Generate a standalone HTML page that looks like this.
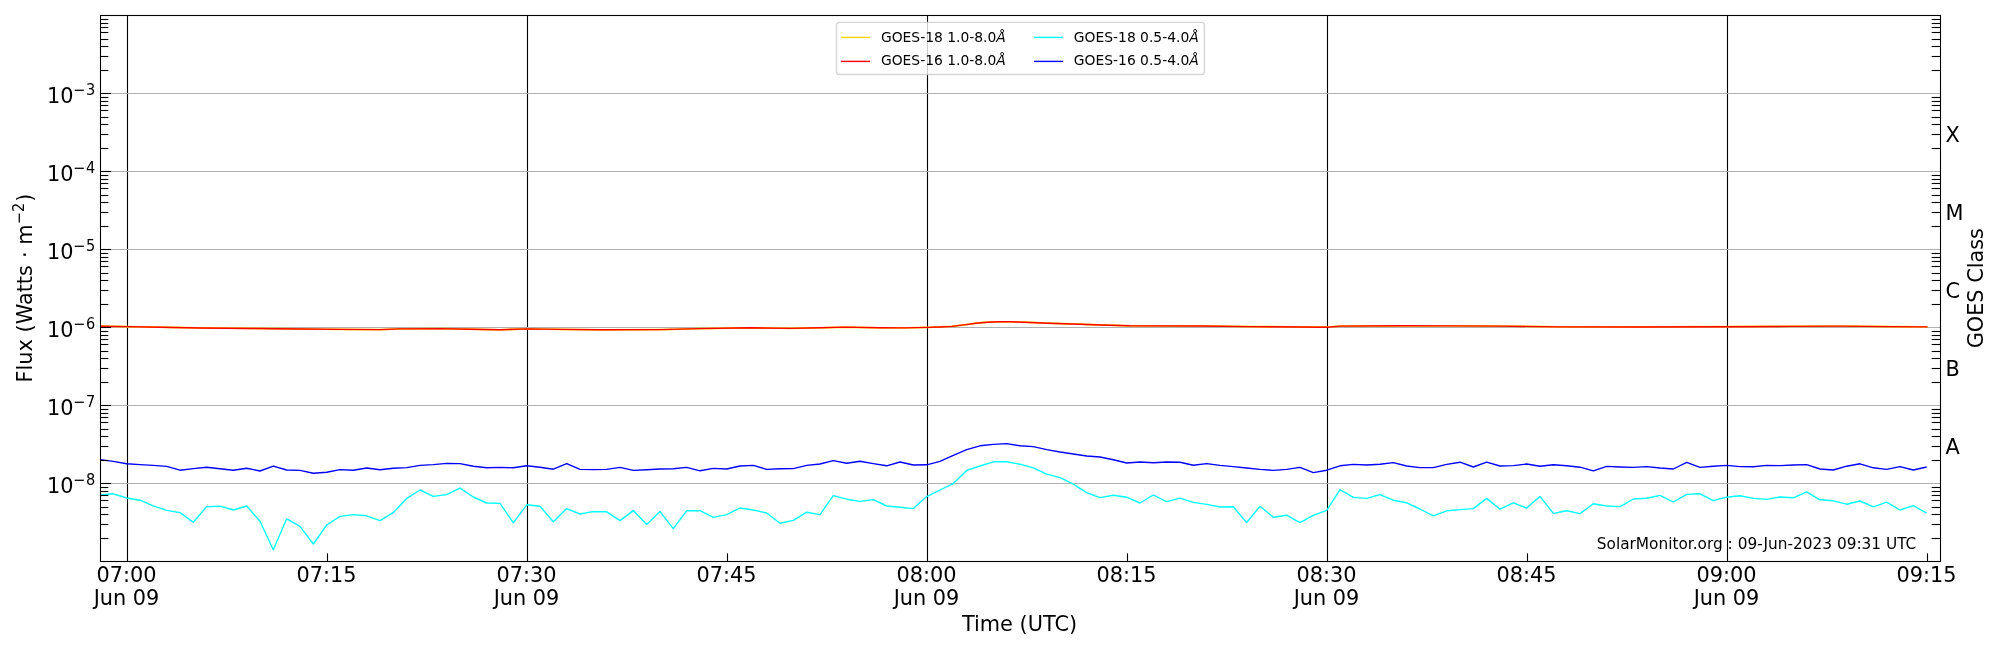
<!DOCTYPE html>
<html lang="en">
<head>
<meta charset="utf-8">
<title>GOES X-ray Flux</title>
<style>
html,body{margin:0;padding:0;background:#fff;}
body{width:2000px;height:650px;overflow:hidden;}
svg{display:block;will-change:transform;}
text{font-family:"DejaVu Sans", "Liberation Sans", sans-serif;fill:#000;}
.it{font-family:"DejaVu Sans", "Liberation Sans", sans-serif;font-style:oblique;}
</style>
</head>
<body>
<svg width="2000" height="650" viewBox="0 0 2000 650">
<rect x="0" y="0" width="2000" height="650" fill="#ffffff"/>
<defs><clipPath id="ax"><rect x="100.5" y="15.5" width="1840.0" height="546.0"/></clipPath></defs>
<g stroke="#000" stroke-width="1.1">
<line x1="127.5" y1="15.5" x2="127.5" y2="561.5"/>
<line x1="527.5" y1="15.5" x2="527.5" y2="561.5"/>
<line x1="927.5" y1="15.5" x2="927.5" y2="561.5"/>
<line x1="1327.5" y1="15.5" x2="1327.5" y2="561.5"/>
<line x1="1727.5" y1="15.5" x2="1727.5" y2="561.5"/>
</g>
<g stroke="#b0b0b0" stroke-width="1.1" fill="none">
<line x1="100.5" y1="483.50" x2="1940.5" y2="483.50"/>
<line x1="100.5" y1="405.50" x2="1940.5" y2="405.50"/>
<line x1="100.5" y1="327.50" x2="1940.5" y2="327.50"/>
<line x1="100.5" y1="249.50" x2="1940.5" y2="249.50"/>
<line x1="100.5" y1="171.50" x2="1940.5" y2="171.50"/>
<line x1="100.5" y1="93.50" x2="1940.5" y2="93.50"/>
</g>
<g clip-path="url(#ax)">
<polyline points="100.5,326.1 127.5,326.6 160.0,327.2 200.0,327.9 250.0,328.4 300.0,328.9 340.0,329.3 380.0,329.6 400.0,328.8 440.0,328.6 470.0,329.1 500.0,329.8 527.5,328.8 560.0,329.3 600.0,329.8 660.0,329.6 700.0,328.6 750.0,327.8 790.0,328.3 820.0,327.8 845.0,327.1 880.0,327.8 905.0,327.8 927.5,327.3 940.0,326.9 952.0,326.3 960.0,325.3 968.0,324.3 976.0,323.2 984.0,322.4 992.0,321.9 1000.0,321.8 1010.0,321.8 1024.0,322.1 1048.0,323.1 1080.0,324.1 1100.0,324.9 1130.0,325.8 1200.0,325.9 1250.0,326.6 1300.0,326.9 1327.5,327.1 1340.0,326.1 1400.0,325.8 1450.0,325.8 1500.0,326.1 1560.0,326.8 1640.0,326.9 1727.5,326.6 1790.0,326.3 1840.0,326.1 1890.0,326.6 1927.5,326.8" fill="none" stroke="#ffd700" stroke-width="1.8" stroke-linejoin="round" stroke-linecap="butt" />
<polyline points="100.5,326.2 127.5,326.6 160.0,327.3 200.0,328.0 250.0,328.5 300.0,329.0 340.0,329.4 380.0,329.6 400.0,328.9 440.0,328.6 470.0,329.2 500.0,329.8 527.5,328.9 560.0,329.4 600.0,329.8 660.0,329.6 700.0,328.6 750.0,327.8 790.0,328.4 820.0,327.8 845.0,327.1 880.0,327.8 905.0,327.9 927.5,327.4 940.0,327.0 952.0,326.4 960.0,325.4 968.0,324.4 976.0,323.3 984.0,322.5 992.0,322.0 1000.0,321.8 1010.0,321.8 1024.0,322.2 1048.0,323.2 1080.0,324.2 1100.0,325.0 1130.0,325.8 1200.0,326.0 1250.0,326.6 1300.0,327.0 1327.5,327.2 1340.0,326.1 1400.0,325.8 1450.0,325.9 1500.0,326.1 1560.0,326.9 1640.0,327.0 1727.5,326.7 1790.0,326.4 1840.0,326.1 1890.0,326.6 1927.5,326.9" fill="none" stroke="#ff0000" stroke-width="1.39" stroke-linejoin="round" stroke-linecap="butt" />
<polyline points="100.0,495.0 113.3,493.8 126.7,498.0 140.0,500.2 153.3,505.8 166.7,510.4 180.0,512.6 193.3,522.2 206.7,506.6 220.0,506.2 233.3,510.0 246.7,506.0 260.0,521.2 273.3,549.8 286.7,518.8 300.0,526.4 313.3,544.0 326.7,525.0 340.0,516.4 353.3,514.6 366.7,515.8 380.0,520.6 393.3,512.6 406.7,498.4 420.0,490.0 433.3,496.4 446.7,494.6 460.0,488.2 473.3,497.0 486.7,503.0 500.0,503.4 513.3,522.8 526.7,504.8 540.0,506.2 553.3,521.8 566.7,508.6 580.0,514.0 593.3,511.6 606.7,511.8 620.0,520.6 633.3,510.6 646.7,524.4 660.0,511.6 673.3,528.6 686.7,510.8 700.0,510.6 713.3,517.4 726.7,514.6 740.0,508.0 753.3,510.0 766.7,513.0 780.0,523.2 793.3,520.4 806.7,512.2 820.0,514.6 833.3,495.6 846.7,499.2 860.0,501.4 873.3,499.6 886.7,506.0 900.0,507.2 913.3,508.6 926.7,496.6 940.0,490.0 953.3,483.6 966.7,470.4 980.0,466.0 993.3,461.8 1006.7,461.8 1020.0,464.2 1033.3,467.8 1046.7,474.2 1060.0,477.6 1073.3,484.2 1086.7,492.6 1100.0,497.6 1113.3,495.2 1126.7,497.2 1140.0,503.0 1153.3,495.0 1166.7,501.6 1180.0,498.2 1193.3,502.4 1206.7,504.4 1220.0,507.0 1233.3,506.8 1246.7,522.6 1260.0,506.2 1273.3,517.2 1286.7,515.2 1300.0,522.6 1313.3,515.4 1326.7,510.4 1340.0,489.6 1353.3,497.4 1366.7,498.4 1380.0,494.6 1393.3,500.2 1406.7,502.8 1420.0,509.0 1433.3,515.8 1446.7,510.8 1460.0,509.6 1473.3,508.6 1486.7,498.4 1500.0,509.2 1513.3,502.8 1526.7,508.0 1540.0,496.4 1553.3,513.4 1566.7,510.8 1580.0,513.6 1593.3,503.8 1606.7,506.0 1620.0,506.6 1633.3,499.0 1646.7,498.2 1660.0,495.4 1673.3,502.0 1686.7,494.4 1700.0,493.8 1713.3,500.6 1726.7,497.2 1740.0,495.8 1753.3,498.4 1766.7,499.4 1780.0,497.0 1793.3,497.8 1806.7,491.8 1820.0,499.8 1833.3,500.8 1846.7,504.2 1860.0,501.0 1873.3,506.8 1886.7,502.2 1900.0,510.0 1913.3,505.6 1926.7,513.2" fill="none" stroke="#00ffff" stroke-width="1.39" stroke-linejoin="round" stroke-linecap="butt" />
<polyline points="100.0,459.6 113.3,461.4 126.7,463.8 140.0,464.6 153.3,465.4 166.7,466.4 180.0,470.2 193.3,468.6 206.7,467.2 220.0,468.8 233.3,470.2 246.7,468.2 260.0,471.0 273.3,466.2 286.7,470.0 300.0,470.4 313.3,473.2 326.7,472.2 340.0,469.6 353.3,470.2 366.7,468.0 380.0,469.8 393.3,468.2 406.7,467.6 420.0,465.4 433.3,464.6 446.7,463.4 460.0,463.6 473.3,466.2 486.7,467.8 500.0,467.4 513.3,467.8 526.7,465.8 540.0,467.2 553.3,469.2 566.7,463.6 580.0,469.4 593.3,469.6 606.7,469.4 620.0,467.4 633.3,470.4 646.7,469.8 660.0,469.0 673.3,468.8 686.7,467.4 700.0,470.8 713.3,468.4 726.7,469.0 740.0,466.0 753.3,465.4 766.7,469.4 780.0,468.8 793.3,468.6 806.7,465.4 820.0,464.0 833.3,460.6 846.7,463.2 860.0,461.2 873.3,463.6 886.7,465.8 900.0,462.0 913.3,465.0 926.7,464.8 940.0,461.4 953.3,455.4 966.7,449.6 980.0,445.8 993.3,444.4 1006.7,443.6 1020.0,445.8 1033.3,446.6 1046.7,449.6 1060.0,452.0 1073.3,454.0 1086.7,456.0 1100.0,457.0 1113.3,459.8 1126.7,463.0 1140.0,462.0 1153.3,462.8 1166.7,462.0 1180.0,462.2 1193.3,465.2 1206.7,463.6 1220.0,465.4 1233.3,466.6 1246.7,468.0 1260.0,469.4 1273.3,470.4 1286.7,469.4 1300.0,467.4 1313.3,472.6 1326.7,470.2 1340.0,465.8 1353.3,464.4 1366.7,465.0 1380.0,464.2 1393.3,462.6 1406.7,466.0 1420.0,467.6 1433.3,467.6 1446.7,464.4 1460.0,462.2 1473.3,467.0 1486.7,462.2 1500.0,466.0 1513.3,465.6 1526.7,464.0 1540.0,466.2 1553.3,464.8 1566.7,465.8 1580.0,467.2 1593.3,470.8 1606.7,466.4 1620.0,467.0 1633.3,467.4 1646.7,466.6 1660.0,468.0 1673.3,469.0 1686.7,462.4 1700.0,467.4 1713.3,466.2 1726.7,465.4 1740.0,466.6 1753.3,466.8 1766.7,465.4 1780.0,465.6 1793.3,465.0 1806.7,464.6 1820.0,469.0 1833.3,470.0 1846.7,466.2 1860.0,463.8 1873.3,467.8 1886.7,469.4 1900.0,466.6 1913.3,470.0 1926.7,467.0" fill="none" stroke="#0000ff" stroke-width="1.39" stroke-linejoin="round" stroke-linecap="butt" />
</g>
<g stroke="#000" stroke-width="1.1">
<line x1="100" y1="538.50" x2="108.33" y2="538.50"/>
<line x1="1931.67" y1="538.50" x2="1940" y2="538.50"/>
<line x1="100" y1="524.50" x2="108.33" y2="524.50"/>
<line x1="1931.67" y1="524.50" x2="1940" y2="524.50"/>
<line x1="100" y1="514.50" x2="108.33" y2="514.50"/>
<line x1="1931.67" y1="514.50" x2="1940" y2="514.50"/>
<line x1="100" y1="507.50" x2="108.33" y2="507.50"/>
<line x1="1931.67" y1="507.50" x2="1940" y2="507.50"/>
<line x1="100" y1="500.50" x2="108.33" y2="500.50"/>
<line x1="1931.67" y1="500.50" x2="1940" y2="500.50"/>
<line x1="100" y1="495.50" x2="108.33" y2="495.50"/>
<line x1="1931.67" y1="495.50" x2="1940" y2="495.50"/>
<line x1="100" y1="491.50" x2="108.33" y2="491.50"/>
<line x1="1931.67" y1="491.50" x2="1940" y2="491.50"/>
<line x1="100" y1="487.50" x2="108.33" y2="487.50"/>
<line x1="1931.67" y1="487.50" x2="1940" y2="487.50"/>
<line x1="100" y1="483.50" x2="111.1" y2="483.50"/>
<line x1="100" y1="460.50" x2="108.33" y2="460.50"/>
<line x1="1931.67" y1="460.50" x2="1940" y2="460.50"/>
<line x1="100" y1="446.50" x2="108.33" y2="446.50"/>
<line x1="1931.67" y1="446.50" x2="1940" y2="446.50"/>
<line x1="100" y1="436.50" x2="108.33" y2="436.50"/>
<line x1="1931.67" y1="436.50" x2="1940" y2="436.50"/>
<line x1="100" y1="429.50" x2="108.33" y2="429.50"/>
<line x1="1931.67" y1="429.50" x2="1940" y2="429.50"/>
<line x1="100" y1="422.50" x2="108.33" y2="422.50"/>
<line x1="1931.67" y1="422.50" x2="1940" y2="422.50"/>
<line x1="100" y1="417.50" x2="108.33" y2="417.50"/>
<line x1="1931.67" y1="417.50" x2="1940" y2="417.50"/>
<line x1="100" y1="413.50" x2="108.33" y2="413.50"/>
<line x1="1931.67" y1="413.50" x2="1940" y2="413.50"/>
<line x1="100" y1="409.50" x2="108.33" y2="409.50"/>
<line x1="1931.67" y1="409.50" x2="1940" y2="409.50"/>
<line x1="100" y1="405.50" x2="111.1" y2="405.50"/>
<line x1="100" y1="382.50" x2="108.33" y2="382.50"/>
<line x1="1931.67" y1="382.50" x2="1940" y2="382.50"/>
<line x1="100" y1="368.50" x2="108.33" y2="368.50"/>
<line x1="1931.67" y1="368.50" x2="1940" y2="368.50"/>
<line x1="100" y1="358.50" x2="108.33" y2="358.50"/>
<line x1="1931.67" y1="358.50" x2="1940" y2="358.50"/>
<line x1="100" y1="351.50" x2="108.33" y2="351.50"/>
<line x1="1931.67" y1="351.50" x2="1940" y2="351.50"/>
<line x1="100" y1="344.50" x2="108.33" y2="344.50"/>
<line x1="1931.67" y1="344.50" x2="1940" y2="344.50"/>
<line x1="100" y1="339.50" x2="108.33" y2="339.50"/>
<line x1="1931.67" y1="339.50" x2="1940" y2="339.50"/>
<line x1="100" y1="335.50" x2="108.33" y2="335.50"/>
<line x1="1931.67" y1="335.50" x2="1940" y2="335.50"/>
<line x1="100" y1="331.50" x2="108.33" y2="331.50"/>
<line x1="1931.67" y1="331.50" x2="1940" y2="331.50"/>
<line x1="100" y1="327.50" x2="111.1" y2="327.50"/>
<line x1="100" y1="304.50" x2="108.33" y2="304.50"/>
<line x1="1931.67" y1="304.50" x2="1940" y2="304.50"/>
<line x1="100" y1="290.50" x2="108.33" y2="290.50"/>
<line x1="1931.67" y1="290.50" x2="1940" y2="290.50"/>
<line x1="100" y1="280.50" x2="108.33" y2="280.50"/>
<line x1="1931.67" y1="280.50" x2="1940" y2="280.50"/>
<line x1="100" y1="273.50" x2="108.33" y2="273.50"/>
<line x1="1931.67" y1="273.50" x2="1940" y2="273.50"/>
<line x1="100" y1="266.50" x2="108.33" y2="266.50"/>
<line x1="1931.67" y1="266.50" x2="1940" y2="266.50"/>
<line x1="100" y1="261.50" x2="108.33" y2="261.50"/>
<line x1="1931.67" y1="261.50" x2="1940" y2="261.50"/>
<line x1="100" y1="257.50" x2="108.33" y2="257.50"/>
<line x1="1931.67" y1="257.50" x2="1940" y2="257.50"/>
<line x1="100" y1="253.50" x2="108.33" y2="253.50"/>
<line x1="1931.67" y1="253.50" x2="1940" y2="253.50"/>
<line x1="100" y1="249.50" x2="111.1" y2="249.50"/>
<line x1="100" y1="226.50" x2="108.33" y2="226.50"/>
<line x1="1931.67" y1="226.50" x2="1940" y2="226.50"/>
<line x1="100" y1="212.50" x2="108.33" y2="212.50"/>
<line x1="1931.67" y1="212.50" x2="1940" y2="212.50"/>
<line x1="100" y1="202.50" x2="108.33" y2="202.50"/>
<line x1="1931.67" y1="202.50" x2="1940" y2="202.50"/>
<line x1="100" y1="195.50" x2="108.33" y2="195.50"/>
<line x1="1931.67" y1="195.50" x2="1940" y2="195.50"/>
<line x1="100" y1="188.50" x2="108.33" y2="188.50"/>
<line x1="1931.67" y1="188.50" x2="1940" y2="188.50"/>
<line x1="100" y1="183.50" x2="108.33" y2="183.50"/>
<line x1="1931.67" y1="183.50" x2="1940" y2="183.50"/>
<line x1="100" y1="179.50" x2="108.33" y2="179.50"/>
<line x1="1931.67" y1="179.50" x2="1940" y2="179.50"/>
<line x1="100" y1="175.50" x2="108.33" y2="175.50"/>
<line x1="1931.67" y1="175.50" x2="1940" y2="175.50"/>
<line x1="100" y1="171.50" x2="111.1" y2="171.50"/>
<line x1="100" y1="148.50" x2="108.33" y2="148.50"/>
<line x1="1931.67" y1="148.50" x2="1940" y2="148.50"/>
<line x1="100" y1="134.50" x2="108.33" y2="134.50"/>
<line x1="1931.67" y1="134.50" x2="1940" y2="134.50"/>
<line x1="100" y1="124.50" x2="108.33" y2="124.50"/>
<line x1="1931.67" y1="124.50" x2="1940" y2="124.50"/>
<line x1="100" y1="117.50" x2="108.33" y2="117.50"/>
<line x1="1931.67" y1="117.50" x2="1940" y2="117.50"/>
<line x1="100" y1="110.50" x2="108.33" y2="110.50"/>
<line x1="1931.67" y1="110.50" x2="1940" y2="110.50"/>
<line x1="100" y1="105.50" x2="108.33" y2="105.50"/>
<line x1="1931.67" y1="105.50" x2="1940" y2="105.50"/>
<line x1="100" y1="101.50" x2="108.33" y2="101.50"/>
<line x1="1931.67" y1="101.50" x2="1940" y2="101.50"/>
<line x1="100" y1="97.50" x2="108.33" y2="97.50"/>
<line x1="1931.67" y1="97.50" x2="1940" y2="97.50"/>
<line x1="100" y1="93.50" x2="111.1" y2="93.50"/>
<line x1="100" y1="70.50" x2="108.33" y2="70.50"/>
<line x1="1931.67" y1="70.50" x2="1940" y2="70.50"/>
<line x1="100" y1="56.50" x2="108.33" y2="56.50"/>
<line x1="1931.67" y1="56.50" x2="1940" y2="56.50"/>
<line x1="100" y1="46.50" x2="108.33" y2="46.50"/>
<line x1="1931.67" y1="46.50" x2="1940" y2="46.50"/>
<line x1="100" y1="39.50" x2="108.33" y2="39.50"/>
<line x1="1931.67" y1="39.50" x2="1940" y2="39.50"/>
<line x1="100" y1="32.50" x2="108.33" y2="32.50"/>
<line x1="1931.67" y1="32.50" x2="1940" y2="32.50"/>
<line x1="100" y1="27.50" x2="108.33" y2="27.50"/>
<line x1="1931.67" y1="27.50" x2="1940" y2="27.50"/>
<line x1="100" y1="23.50" x2="108.33" y2="23.50"/>
<line x1="1931.67" y1="23.50" x2="1940" y2="23.50"/>
<line x1="100" y1="19.50" x2="108.33" y2="19.50"/>
<line x1="1931.67" y1="19.50" x2="1940" y2="19.50"/>
<line x1="327.5" y1="553.3" x2="327.5" y2="561.6"/>
<line x1="727.5" y1="553.3" x2="727.5" y2="561.6"/>
<line x1="1127.5" y1="553.3" x2="1127.5" y2="561.6"/>
<line x1="1527.5" y1="553.3" x2="1527.5" y2="561.6"/>
<line x1="1927.5" y1="553.3" x2="1927.5" y2="561.6"/>
</g>
<rect x="100.5" y="15.5" width="1840.0" height="546.0" fill="none" stroke="#000" stroke-width="1.1"/>
<text x="73.4" y="492.6" font-size="20.83" text-anchor="end">10</text>
<text transform="translate(73.0,485.1) scale(1,1.08)" font-size="14.58">−<tspan dx="0.7">8</tspan></text>
<text x="73.4" y="414.6" font-size="20.83" text-anchor="end">10</text>
<text transform="translate(73.0,407.1) scale(1,1.08)" font-size="14.58">−<tspan dx="0.7">7</tspan></text>
<text x="73.4" y="336.6" font-size="20.83" text-anchor="end">10</text>
<text transform="translate(73.0,329.1) scale(1,1.08)" font-size="14.58">−<tspan dx="0.7">6</tspan></text>
<text x="73.4" y="258.6" font-size="20.83" text-anchor="end">10</text>
<text transform="translate(73.0,251.1) scale(1,1.08)" font-size="14.58">−<tspan dx="0.7">5</tspan></text>
<text x="73.4" y="180.6" font-size="20.83" text-anchor="end">10</text>
<text transform="translate(73.0,173.1) scale(1,1.08)" font-size="14.58">−<tspan dx="0.7">4</tspan></text>
<text x="73.4" y="102.6" font-size="20.83" text-anchor="end">10</text>
<text transform="translate(73.0,95.1) scale(1,1.08)" font-size="14.58">−<tspan dx="0.7">3</tspan></text>
<text x="126.5" y="581.8" font-size="20.83" text-anchor="middle">07:00</text>
<text x="126.5" y="604.9" font-size="20.83" text-anchor="middle">Jun 09</text>
<text x="326.5" y="581.8" font-size="20.83" text-anchor="middle">07:15</text>
<text x="526.5" y="581.8" font-size="20.83" text-anchor="middle">07:30</text>
<text x="526.5" y="604.9" font-size="20.83" text-anchor="middle">Jun 09</text>
<text x="726.5" y="581.8" font-size="20.83" text-anchor="middle">07:45</text>
<text x="926.5" y="581.8" font-size="20.83" text-anchor="middle">08:00</text>
<text x="926.5" y="604.9" font-size="20.83" text-anchor="middle">Jun 09</text>
<text x="1126.5" y="581.8" font-size="20.83" text-anchor="middle">08:15</text>
<text x="1326.5" y="581.8" font-size="20.83" text-anchor="middle">08:30</text>
<text x="1326.5" y="604.9" font-size="20.83" text-anchor="middle">Jun 09</text>
<text x="1526.5" y="581.8" font-size="20.83" text-anchor="middle">08:45</text>
<text x="1726.5" y="581.8" font-size="20.83" text-anchor="middle">09:00</text>
<text x="1726.5" y="604.9" font-size="20.83" text-anchor="middle">Jun 09</text>
<text x="1926.5" y="581.8" font-size="20.83" text-anchor="middle">09:15</text>
<text x="1019.5" y="630.6" font-size="20.83" text-anchor="middle">Time (UTC)</text>
<text transform="translate(32.3,224.5) rotate(-90)" font-size="20.83" text-anchor="end">Flux (Watts <tspan dx="0.5">· m</tspan></text>
<text transform="translate(24.0,224.3) rotate(-90) scale(1,1.08)" font-size="14.58">−2</text>
<text transform="translate(32.3,201.7) rotate(-90)" font-size="20.83">)</text>
<text transform="translate(1983.2,288.2) rotate(-90)" font-size="20.83" text-anchor="middle">GOES Class</text>
<text x="1945.6" y="141.8" font-size="20.83">X</text>
<text x="1945.6" y="219.8" font-size="20.83">M</text>
<text x="1945.6" y="297.8" font-size="20.83">C</text>
<text x="1945.6" y="375.8" font-size="20.83">B</text>
<text x="1945.6" y="453.8" font-size="20.83">A</text>
<rect x="836.5" y="22.4" width="367.9" height="52.1" rx="2.8" ry="2.8" fill="#ffffff" fill-opacity="0.8" stroke="#cccccc" stroke-opacity="0.8" stroke-width="1.4"/>
<line x1="841" y1="37.4" x2="870" y2="37.4" stroke="#ffd700" stroke-width="1.39"/>
<text x="880.9" y="42.0" font-size="13.89">GOES-18 1.0-8.0<tspan class="it" font-style="oblique">Å</tspan></text>
<line x1="841" y1="61.4" x2="870" y2="61.4" stroke="#ff0000" stroke-width="1.39"/>
<text x="880.9" y="65.3" font-size="13.89">GOES-16 1.0-8.0<tspan class="it" font-style="oblique">Å</tspan></text>
<line x1="1034" y1="37.4" x2="1063" y2="37.4" stroke="#00ffff" stroke-width="1.39"/>
<text x="1073.8" y="42.0" font-size="13.89">GOES-18 0.5-4.0<tspan class="it" font-style="oblique">Å</tspan></text>
<line x1="1034" y1="61.4" x2="1063" y2="61.4" stroke="#0000ff" stroke-width="1.39"/>
<text x="1073.8" y="65.3" font-size="13.89">GOES-16 0.5-4.0<tspan class="it" font-style="oblique">Å</tspan></text>
<text x="1596.8" y="549.1" font-size="15.33">SolarMonitor.org : 09-Jun-2023 09:31 UTC</text>
</svg>
</body>
</html>
